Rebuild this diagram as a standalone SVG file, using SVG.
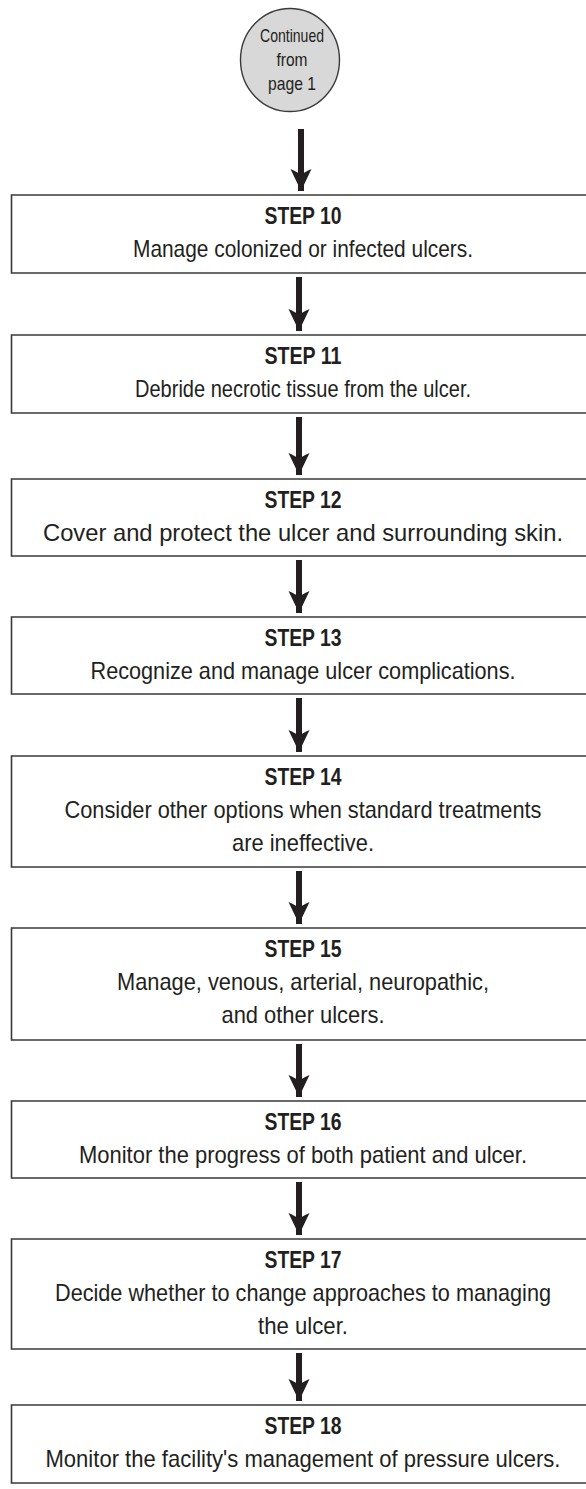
<svg xmlns="http://www.w3.org/2000/svg" width="586" height="1489" viewBox="0 0 586 1489">
<style>
.box{fill:#ffffff;stroke:#3a3a3a;stroke-width:1.6}
.start{fill:#d8d8d8;stroke:#3a3a3a;stroke-width:1.4}
.t{font-family:"Liberation Sans Narrow","Liberation Sans",Arial,sans-serif;font-size:24px;fill:#231f20;text-anchor:middle}
.s{font-weight:bold}
.c{font-size:19px}
.conn{stroke:#231f20;stroke-width:6;fill:none;marker-end:url(#ah)}
</style>
<defs>
<marker id="ah" viewBox="0 0 22 22" markerWidth="22" markerHeight="22" refX="22" refY="11" orient="auto" markerUnits="userSpaceOnUse">
<path d="M22,11 L0,0.5 Q4,9 5.5,11 Q4,13 0,21.5 Z" fill="#231f20"/>
</marker>
</defs>
<rect width="586" height="1489" fill="#ffffff"/>
<g id="connectors">
<line class="conn" x1="301" y1="129" x2="301" y2="191"/>
<line class="conn" x1="299" y1="277" x2="299" y2="331"/>
<line class="conn" x1="299" y1="417" x2="299" y2="475"/>
<line class="conn" x1="299" y1="560" x2="299" y2="613"/>
<line class="conn" x1="299" y1="698" x2="299" y2="752"/>
<line class="conn" x1="299" y1="871" x2="299" y2="924"/>
<line class="conn" x1="299" y1="1044" x2="299" y2="1097"/>
<line class="conn" x1="299" y1="1182" x2="299" y2="1235"/>
<line class="conn" x1="299" y1="1353" x2="299" y2="1401"/>
</g>
<g id="start">
<ellipse class="start" cx="290" cy="60" rx="49.5" ry="51.5"/>
<text class="t c" x="292" y="42" textLength="64" lengthAdjust="spacingAndGlyphs">Continued</text>
<text class="t c" x="292" y="66" textLength="31" lengthAdjust="spacingAndGlyphs">from</text>
<text class="t c" x="292" y="90" textLength="48" lengthAdjust="spacingAndGlyphs">page 1</text>
</g>
<g id="step10">
<path class="box" d="M586,195 H11.5 V273 H586"/>
<text class="t s" x="303" y="224" textLength="77" lengthAdjust="spacingAndGlyphs">STEP 10</text>
<text class="t" x="303" y="257" textLength="340" lengthAdjust="spacingAndGlyphs">Manage colonized or infected ulcers.</text>
</g>
<g id="step11">
<path class="box" d="M586,335 H11.5 V413 H586"/>
<text class="t s" x="303" y="364" textLength="77" lengthAdjust="spacingAndGlyphs">STEP 11</text>
<text class="t" x="303" y="397" textLength="336" lengthAdjust="spacingAndGlyphs">Debride necrotic tissue from the ulcer.</text>
</g>
<g id="step12">
<path class="box" d="M586,479 H11.5 V556 H586"/>
<text class="t s" x="303" y="508" textLength="77" lengthAdjust="spacingAndGlyphs">STEP 12</text>
<text class="t" x="303" y="541" textLength="520" lengthAdjust="spacingAndGlyphs">Cover and protect the ulcer and surrounding skin.</text>
</g>
<g id="step13">
<path class="box" d="M586,617 H11.5 V694 H586"/>
<text class="t s" x="303" y="646" textLength="77" lengthAdjust="spacingAndGlyphs">STEP 13</text>
<text class="t" x="303" y="679" textLength="425" lengthAdjust="spacingAndGlyphs">Recognize and manage ulcer complications.</text>
</g>
<g id="step14">
<path class="box" d="M586,756 H11.5 V867 H586"/>
<text class="t s" x="303" y="785" textLength="77" lengthAdjust="spacingAndGlyphs">STEP 14</text>
<text class="t" x="303" y="818" textLength="477" lengthAdjust="spacingAndGlyphs">Consider other options when standard treatments</text>
<text class="t" x="303" y="851" textLength="142" lengthAdjust="spacingAndGlyphs">are ineffective.</text>
</g>
<g id="step15">
<path class="box" d="M586,928 H11.5 V1040 H586"/>
<text class="t s" x="303" y="957" textLength="77" lengthAdjust="spacingAndGlyphs">STEP 15</text>
<text class="t" x="303" y="990" textLength="372" lengthAdjust="spacingAndGlyphs">Manage, venous, arterial, neuropathic,</text>
<text class="t" x="303" y="1023" textLength="163" lengthAdjust="spacingAndGlyphs">and other ulcers.</text>
</g>
<g id="step16">
<path class="box" d="M586,1101 H11.5 V1178 H586"/>
<text class="t s" x="303" y="1130" textLength="77" lengthAdjust="spacingAndGlyphs">STEP 16</text>
<text class="t" x="303" y="1163" textLength="448" lengthAdjust="spacingAndGlyphs">Monitor the progress of both patient and ulcer.</text>
</g>
<g id="step17">
<path class="box" d="M586,1239 H11.5 V1349 H586"/>
<text class="t s" x="303" y="1268" textLength="77" lengthAdjust="spacingAndGlyphs">STEP 17</text>
<text class="t" x="303" y="1301" textLength="496" lengthAdjust="spacingAndGlyphs">Decide whether to change approaches to managing</text>
<text class="t" x="303" y="1334" textLength="90" lengthAdjust="spacingAndGlyphs">the ulcer.</text>
</g>
<g id="step18">
<path class="box" d="M586,1405 H11.5 V1483 H586"/>
<text class="t s" x="303" y="1434" textLength="77" lengthAdjust="spacingAndGlyphs">STEP 18</text>
<text class="t" x="303" y="1467" textLength="515" lengthAdjust="spacingAndGlyphs">Monitor the facility's management of pressure ulcers.</text>
</g>
</svg>
